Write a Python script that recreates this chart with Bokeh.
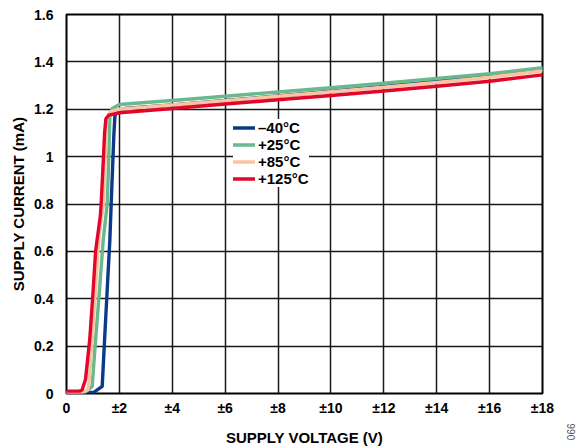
import math
from bokeh.plotting import figure
from bokeh.layouts import row
from bokeh.models import FixedTicker, Legend, LegendItem, Range1d
from bokeh.embed import file_html
from bokeh.resources import INLINE

# ---- data ----
x_ticks = [0, 2, 4, 6, 8, 10, 12, 14, 16, 18]
x_tick_labels = ["0", "±2", "±4", "±6", "±8", "±10", "±12", "±14", "±16", "±18"]
y_ticks = [0, 0.2, 0.4, 0.6, 0.8, 1.0, 1.2, 1.4, 1.6]
y_tick_labels = ["0", "0.2", "0.4", "0.6", "0.8", "1", "1.2", "1.4", "1.6"]

series_names = ["–40°C", "+25°C", "+85°C", "+125°C"]
figure_number = "066"

v_m40 = [0, 1.03, 1.35, 1.44, 1.54, 1.64, 1.69, 1.79, 1.83, 1.9, 2.2,
         4, 6, 8, 10, 12, 14, 16, 18]
i_m40 = [0.003, 0.005, 0.03, 0.227, 0.44, 0.65, 0.80, 1.09, 1.17, 1.195, 1.203,
         1.218, 1.237, 1.256, 1.276, 1.296, 1.318, 1.342, 1.368]

v_25 = [0, 0.7, 0.97, 1.10, 1.25, 1.39, 1.54, 1.60, 1.64, 1.73, 2.0,
        4, 6, 8, 10, 12, 14, 16, 18]
i_25 = [0.003, 0.005, 0.03, 0.227, 0.44, 0.65, 0.80, 1.0, 1.17, 1.203, 1.22,
        1.237, 1.255, 1.273, 1.291, 1.31, 1.33, 1.35, 1.375]

v_85 = [0, 0.6, 0.8, 0.85, 0.97, 1.10, 1.22, 1.30, 1.40, 1.46, 1.52, 1.65, 2.0,
        4, 6, 8, 10, 12, 14, 16, 18]
i_85 = [0.003, 0.005, 0.015, 0.045, 0.23, 0.44, 0.65, 0.72, 0.80, 1.0, 1.16, 1.19, 1.2,
        1.218, 1.236, 1.255, 1.274, 1.293, 1.313, 1.335, 1.362]

v_125 = [0, 0.3, 0.5, 0.59, 0.72, 0.88, 1.01, 1.10, 1.17, 1.22, 1.28, 1.31, 1.39, 1.44, 1.49, 1.6, 2.0,
         4, 6, 8, 10, 12, 14, 16, 18]
i_125 = [0.01, 0.01, 0.01, 0.015, 0.06, 0.23, 0.44, 0.6, 0.66, 0.70, 0.75, 0.80, 0.98, 1.10, 1.16, 1.175, 1.185,
         1.203, 1.222, 1.24, 1.258, 1.277, 1.297, 1.318, 1.345]

colors = ["#0b3a88", "#69b88e", "#fbc4a0", "#e2062c"]

FONT = "Liberation Sans"
H = 448
SIDE_W = 20

p = figure(width=582 - SIDE_W, height=H, output_backend="svg", toolbar_location=None,
           x_range=Range1d(0, 18), y_range=Range1d(0, 1.6),
           min_border_left=66, min_border_right=40 - SIDE_W, min_border_top=14, min_border_bottom=54)

p.outline_line_color = "black"
p.outline_line_width = 2
p.background_fill_color = "white"
p.border_fill_color = "white"

for ax in (p.xaxis[0], p.yaxis[0]):
    ax.axis_line_color = None
    ax.major_tick_line_color = None
    ax.minor_tick_line_color = None
    ax.major_label_text_font = FONT
    ax.major_label_text_font_style = "bold"
    ax.major_label_text_font_size = "14px"
    ax.major_label_text_color = "black"
    ax.axis_label_text_font = FONT
    ax.axis_label_text_font_style = "bold"
    ax.axis_label_text_font_size = "15px"
    ax.axis_label_text_color = "black"

p.xaxis.ticker = FixedTicker(ticks=x_ticks)
p.xaxis.major_label_overrides = {t: l for t, l in zip(x_ticks, x_tick_labels)}
p.yaxis.ticker = FixedTicker(ticks=y_ticks)
p.yaxis.major_label_overrides = {t: l for t, l in zip(y_ticks, y_tick_labels)}
p.xaxis.major_label_standoff = 0
p.yaxis.major_label_standoff = 7
p.xaxis.axis_label = "SUPPLY VOLTAGE (V)"
p.yaxis.axis_label = "SUPPLY CURRENT (mA)"
p.xaxis.axis_label_standoff = 10
p.yaxis.axis_label_standoff = 4

p.xgrid.grid_line_color = "black"
p.ygrid.grid_line_color = "black"
p.xgrid.grid_line_width = 1.5
p.ygrid.grid_line_width = 1.5
p.xgrid.grid_line_alpha = 0.9
p.ygrid.grid_line_alpha = 0.9

renderers = []
for vx, iy, c in zip([v_m40, v_25, v_85, v_125], [i_m40, i_25, i_85, i_125], colors):
    r = p.line(vx, iy, line_color=c, line_width=3.4, line_join="round", line_cap="round")
    renderers.append(r)

legend = Legend(items=[LegendItem(label=n, renderers=[r]) for n, r in zip(series_names, renderers)],
                location=(167, 206))
legend.border_line_color = None
legend.background_fill_color = "white"
legend.background_fill_alpha = 1
legend.label_text_font = FONT
legend.label_text_font_style = "bold"
legend.label_text_font_size = "15px"
legend.label_text_color = "black"
legend.glyph_width = 22
legend.glyph_height = 17
legend.label_height = 17
legend.label_standoff = 3
legend.spacing = 0
legend.padding = 3
legend.margin = 0
p.add_layout(legend, "center")

# narrow side strip: the vertical figure number is a rotated tick label of its own x axis
side = figure(width=SIDE_W, height=H, output_backend="svg", toolbar_location=None,
              x_range=Range1d(0, SIDE_W), y_range=Range1d(0, 1),
              y_axis_type=None,
              min_border_left=0, min_border_right=0, min_border_top=14, min_border_bottom=54)
side.outline_line_color = None
side.xgrid.visible = False
side.ygrid.visible = False
side.background_fill_color = "white"
side.border_fill_color = "white"
sax = side.xaxis[0]
sax.ticker = FixedTicker(ticks=[8])
sax.major_label_overrides = {8: figure_number}
sax.major_label_orientation = math.pi / 2
sax.major_label_standoff = 24
sax.axis_line_color = None
sax.major_tick_line_color = None
sax.minor_tick_line_color = None
sax.major_label_text_font = FONT
sax.major_label_text_font_size = "10px"
sax.major_label_text_color = "#555555"

layout = row(p, side, spacing=0)
open("out.html", "w").write(file_html(layout, INLINE))
